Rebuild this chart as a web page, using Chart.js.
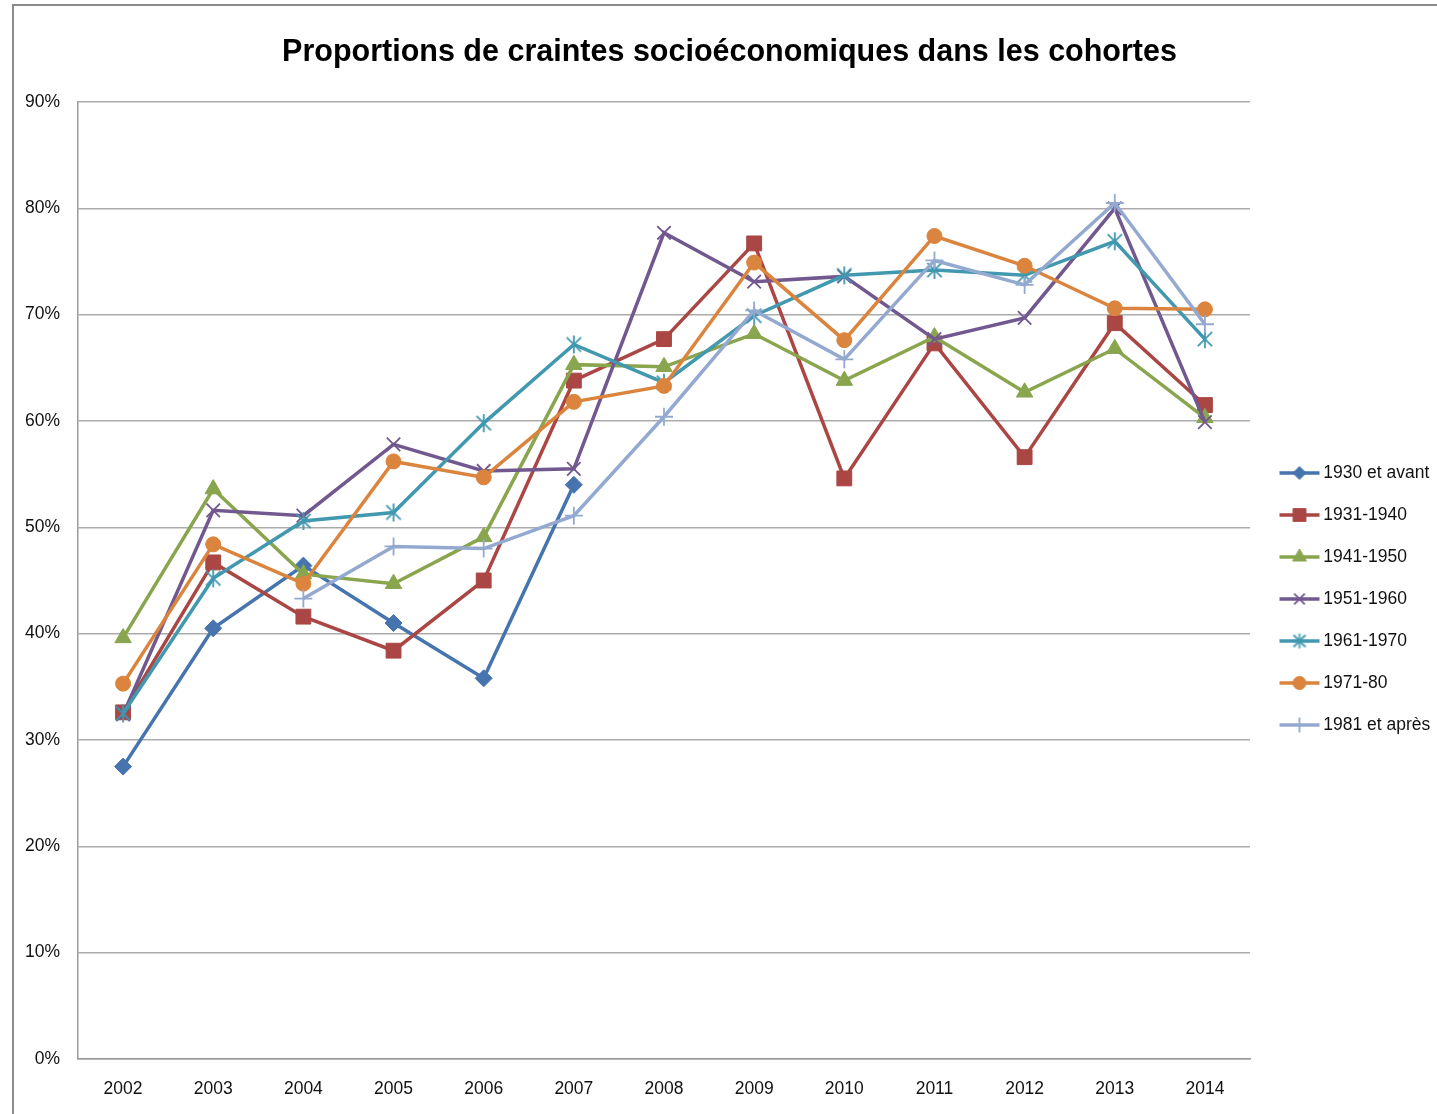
<!DOCTYPE html>
<html>
<head>
<meta charset="utf-8">
<script src="https://cdn.jsdelivr.net/npm/chart.js@4.4.1/dist/chart.umd.min.js"></script>
<style>
html, body { margin: 0; padding: 0; background: #ffffff; overflow: hidden; }
#frame { position: absolute; left: 12px; top: 4px; width: 3000px; height: 3000px; border: 2px solid #8a8a8a; }
#wrap { position: absolute; left: 0; top: 0; width: 1437px; height: 1114px; }
</style>
</head>
<body>
<div id="frame"></div>
<div id="wrap"><canvas id="c"></canvas></div>
<script>
// ---------- data ----------
const chartTitle = 'Proportions de craintes socioéconomiques dans les cohortes';
const years = ['2002','2003','2004','2005','2006','2007','2008','2009','2010','2011','2012','2013','2014'];
const yTickValues = [0, 10, 20, 30, 40, 50, 60, 70, 80, 90];
const seriesNames = ['1930 et avant', '1931-1940', '1941-1950', '1951-1960', '1961-1970', '1971-80', '1981 et après'];

const c1930etAvant = [27.5, 40.5, 46.4, 41.0, 35.8, 54.0, null, null, null, null, null, null, null];
const c1931_1940   = [32.6, 46.7, 41.6, 38.4, 45.0, 63.8, 67.7, 76.7, 54.6, 67.3, 56.6, 69.2, 61.5];
const c1941_1950   = [39.6, 53.6, 45.6, 44.7, 49.1, 65.3, 65.1, 68.2, 63.8, 67.9, 62.7, 66.8, 60.3];
const c1951_1960   = [32.4, 51.6, 51.1, 57.8, 55.3, 55.5, 77.7, 73.1, 73.6, 67.7, 69.7, 80.0, 59.9];
const c1961_1970   = [32.5, 45.2, 50.6, 51.4, 59.8, 67.2, 63.6, 69.9, 73.7, 74.2, 73.7, 76.9, 67.7];
const c1971_80     = [35.3, 48.4, 44.7, 56.2, 54.7, 61.8, 63.3, 74.9, 67.6, 77.4, 74.6, 70.6, 70.5];
const c1981etApres = [null, null, 43.3, 48.2, 48.0, 51.1, 60.4, 70.4, 65.8, 75.1, 72.8, 80.5, 69.1];

// ---------- styling ----------
const seriesData = [c1930etAvant, c1931_1940, c1941_1950, c1951_1960, c1961_1970, c1971_80, c1981etApres];
const colors = ['#4674AE', '#AA4643', '#89A54E', '#71588F', '#4198AF', '#DB843D', '#93A9CF'];
const FONT = "'Liberation Sans', Arial, sans-serif";

// custom 6-arm asterisk (Excel "star" marker)
function makeAsterisk(color, r) {
  const s = Math.ceil(r * 2 + 4);
  const cv = document.createElement('canvas');
  cv.width = s; cv.height = s;
  const g = cv.getContext('2d');
  const c = s / 2;
  g.strokeStyle = color; g.lineWidth = 1.8; g.lineCap = 'butt';
  g.beginPath();
  g.moveTo(c, c - r); g.lineTo(c, c + r);
  const d = r * 0.8;
  g.moveTo(c - d, c - d); g.lineTo(c + d, c + d);
  g.moveTo(c - d, c + d); g.lineTo(c + d, c - d);
  g.stroke();
  return cv;
}

const markers = [
  { style: 'rectRot',  r: 8.5,  lr: 6.5, bw: 1 },
  { style: 'rect',     r: 10.5, lr: 9,   bw: 1 },
  { style: 'triangle', r: 9.5,  lr: 8,   bw: 1 },
  { style: 'crossRot', r: 9.5,  lr: 7.5, bw: 1.8 },
  { style: 'asterisk', r: 9,    lr: 7.5, bw: 1.8 },
  { style: 'circle',   r: 7.5,  lr: 6.5, bw: 1 },
  { style: 'cross',    r: 9,    lr: 7.5, bw: 1.8 }
];

function makeLegendIcon(i) {
  const cv = document.createElement('canvas');
  cv.width = 60; cv.height = 24;
  const g = cv.getContext('2d');
  const col = colors[i];
  g.strokeStyle = col; g.fillStyle = col; g.lineWidth = 3.5;
  g.beginPath(); g.moveTo(15, 12); g.lineTo(55, 12); g.stroke();
  const m = markers[i];
  if (m.style === 'asterisk') {
    const a = makeAsterisk(col, m.lr);
    g.drawImage(a, 35 - a.width / 2, 12 - a.height / 2);
  } else {
    g.lineWidth = m.bw;
    Chart.helpers.drawPoint(g, { radius: m.lr, pointStyle: m.style, rotation: 0, borderWidth: m.bw }, 35, 12);
  }
  return cv;
}

const datasets = seriesData.map((d, i) => {
  const m = markers[i];
  const ps = m.style === 'asterisk' ? makeAsterisk(colors[i], m.r) : m.style;
  return {
    label: seriesNames[i],
    data: d,
    borderColor: colors[i],
    backgroundColor: colors[i],
    borderWidth: 3.5,
    pointStyle: ps,
    pointRadius: m.r,
    pointHoverRadius: m.r,
    pointBorderWidth: m.bw,
    pointBorderColor: colors[i],
    pointBackgroundColor: colors[i],
    tension: 0,
    spanGaps: false,
    order: seriesData.length - 1 - i
  };
});

const legendIcons = seriesData.map((_, i) => makeLegendIcon(i));

const fixLegendWidth = {
  id: 'fixLegendWidth',
  beforeLayout(chart) {
    const lg = chart.legend;
    if (lg && !lg._patched) {
      const orig = lg.fit.bind(lg);
      lg.fit = function () { orig(); this.width = 187; };
      lg._patched = true;
    }
  }
};

new Chart(document.getElementById('c'), {
  type: 'line',
  data: { labels: years, datasets: datasets },
  plugins: [fixLegendWidth],
  options: {
    responsive: true,
    maintainAspectRatio: false,
    devicePixelRatio: 1,
    animation: false,
    layout: { padding: { left: 22, right: 0, top: 0, bottom: 0 } },
    plugins: {
      tooltip: { enabled: false },
      title: {
        display: true,
        text: chartTitle,
        color: '#000000',
        font: { family: FONT, size: 30.5, weight: 'bold' },
        padding: { top: 34, bottom: 31.4 }
      },
      legend: {
        display: true,
        position: 'right',
        align: 'center',
        title: { display: true, text: '', font: { size: 10 }, padding: { top: 72, bottom: 0 } },
        labels: {
          usePointStyle: true,
          pointStyleWidth: 40,
          padding: 24.5,
          color: '#111111',
          font: { family: FONT, size: 17.5 },
          generateLabels(chart) {
            return chart.data.datasets.map((ds, i) => ({
              text: ds.label,
              datasetIndex: i,
              pointStyle: legendIcons[i],
              fillStyle: ds.borderColor,
              strokeStyle: ds.borderColor,
              lineWidth: 0,
              hidden: false,
              fontColor: '#111111'
            }));
          }
        }
      }
    },
    scales: {
      x: {
        offset: true,
        grid: { display: false, drawTicks: false },
        border: { display: true, color: '#9a9a9a', width: 1.5 },
        ticks: { color: '#111111', font: { family: FONT, size: 17.5 }, padding: 20, maxRotation: 0, autoSkip: false },
        afterFit(scale) { scale.height = 55; }
      },
      y: {
        min: 0,
        max: 90,
        grid: { color: '#ababab', lineWidth: 1.5, drawTicks: false },
        border: { display: true, color: '#9a9a9a', width: 1.5 },
        ticks: {
          color: '#111111',
          font: { family: FONT, size: 17.5 },
          padding: 18,
          callback: (v) => v + '%'
        },
        afterBuildTicks(scale) { scale.ticks = yTickValues.map(v => ({ value: v })); },
        afterFit(scale) { scale.width = 56; }
      }
    }
  }
});
</script>
</body>
</html>
